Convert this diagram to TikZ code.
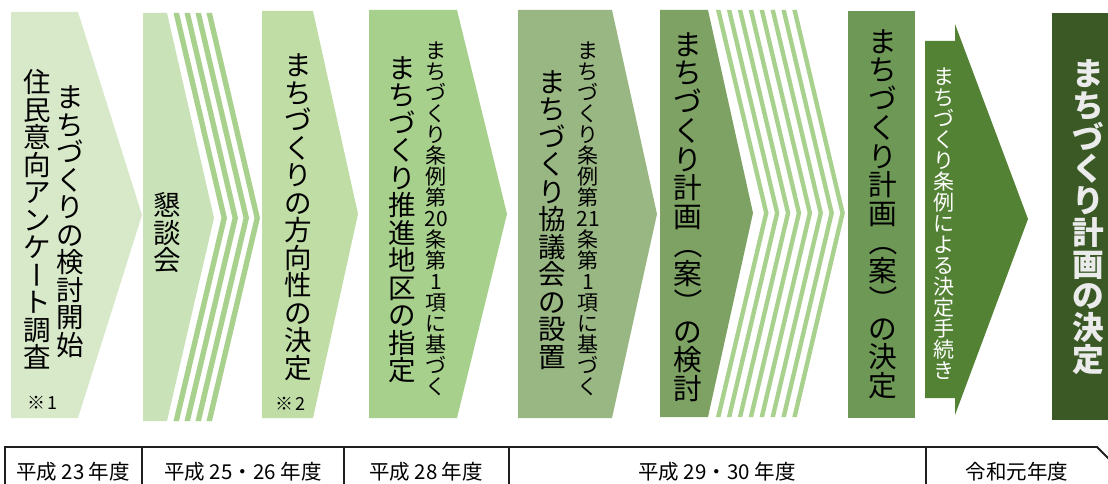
\documentclass[tikz,border=0pt]{standalone}
\usepackage{fontspec}
\setmainfont{Noto Sans CJK JP}
\usepackage{graphicx}
\definecolor{cA}{HTML}{D8E9CA}
\definecolor{cB}{HTML}{C9E2B7}
\definecolor{cC}{HTML}{C0DDA6}
\definecolor{cD}{HTML}{A8D08D}
\definecolor{cE}{HTML}{99B783}
\definecolor{cF}{HTML}{7DA263}
\definecolor{cG}{HTML}{6E9856}
\definecolor{cH}{HTML}{548235}
\definecolor{cI}{HTML}{3A5925}
\definecolor{cS}{HTML}{A9D18E}
\ExplSyntaxOn
\NewDocumentCommand \vt { m }
  {
    \vbox:n
      {
        \offinterlineskip
        \tl_map_inline:nn {#1}
          {
            \hbox_to_wd:nn {1em} { \vrule height .88em depth .12em width 0pt \hss \smash{##1} \hss }
          }
      }
  }
\ExplSyntaxOff
\newcommand\rv[1]{\rotatebox[origin=c]{-90}{\hbox to 1em{\vrule height .88em depth .12em width 0pt\hss #1\hss}}}
\begin{document}
\begin{tikzpicture}[x=1pt,y=-1pt,
  vtx/.style={inner sep=0pt,anchor=center},
  fbig/.style={font=\fontsize{27.5}{27.5}\selectfont},
  fmid/.style={font=\fontsize{28.7}{28.7}\selectfont},
  fsmall/.style={font=\fontsize{21}{21}\selectfont},
  fhuge/.style={font=\fontsize{31.7}{31.7}\selectfont\bfseries},
  fnote/.style={font=\fontsize{18}{18}\selectfont, inner sep=0pt},
  fyr/.style={font=\fontsize{20.5}{20.5}\selectfont, inner sep=0pt},
  tl/.style={line width=1.8pt, draw=black!88}]
\useasboundingbox (0,0) rectangle (1108,484);
\clip (0,0) rectangle (1108,484);
\fill[white] (0,0) rectangle (1108,484);
% shape 1
\fill[cA] (11,12) -- (78,12) -- (142,215) -- (78,418) -- (11,418) -- cycle;
% shape 2 with stripes
\fill[cB] (143,13) -- (167,13) -- (214,218) -- (167,421) -- (143,421) -- cycle;
\foreach \k in {0,...,3}{
  \fill[cS] ({173.5+11*\k},13) -- ++(5.5,0) -- ++(48,205) -- ++(-48,203) -- ++(-5.5,0) -- ++(48,-203) -- cycle;}
% shape 3
\fill[cC] (262,11) -- (313,11) -- (358,214) -- (313,418) -- (262,418) -- cycle;
% shape 4
\fill[cD] (369,10) -- (457,10) -- (507,214) -- (457,418) -- (369,418) -- cycle;
% shape 5
\fill[cE] (518,10) -- (612,10) -- (657,214) -- (612,418) -- (518,418) -- cycle;
% shape 6 with stripes
\fill[cF] (660,10) -- (708,10) -- (753,213) -- (708,417) -- (660,417) -- cycle;
\foreach \k in {0,...,7}{
  \fill[cS] ({716+10.9*\k},10) -- ++(4.5,0) -- ++(48,203) -- ++(-48,204) -- ++(-4.5,0) -- ++(48,-204) -- cycle;}
% shape 7
\fill[cG] (848,11) rectangle (915,418);
% shape 8 arrow
\fill[cH] (925,41) -- (955,41) -- (955,24) -- (1028,219) -- (955,415) -- (955,398) -- (925,398) -- cycle;
% shape 9
\fill[cI] (1052,13) rectangle (1110,420);

% texts
\node[vtx,fbig] (t1a) at (70,221) {\vt{まちづくりの検討開始}};
\node[vtx,fbig] (t1b) at (37,220) {\vt{住民意向アンケ{\rv{ー}}ト調査}};
\node[fnote] (n1) at (42,403) {※\kern2pt 1};
\node[vtx,fbig] (t2) at (167,233) {\vt{懇談会}};
\node[vtx,fbig] (t3) at (298,216.5) {\vt{まちづくりの方向性の決定}};
\node[fnote] (n2) at (290,404) {※\kern2pt 2};
\node[vtx,fbig] (t4a) at (402,219) {\vt{まちづくり推進地区の指定}};
\node[vtx,fsmall] (t4b) at (436,219) {\vt{まちづくり条例第{20}条第1項に基づく}};
\node[vtx,fbig] (t5a) at (552,219.5) {\vt{まちづくり協議会の設置}};
\node[vtx,fsmall] (t5b) at (588,219) {\vt{まちづくり条例第{21}条第1項に基づく}};
\node[vtx,fmid] (t6) at (688,216.5) {\vt{まちづくり計画{\rv{（}}案{\rv{）}}の検討}};
\node[vtx,fmid] (t7) at (883,213.5) {\vt{まちづくり計画{\rv{（}}案{\rv{）}}の決定}};
\node[vtx,fsmall,text=white] (t8) at (944,223.5) {\vt{まちづくり条例による決定手続き}};
\node[vtx,fhuge,text=white!92!black] (t9) at (1088,216.5) {\vt{まちづくり計画の決定}};

% timeline
\draw[tl] (5,490) -- (5,447) -- (1097,447) -- (1140,490);
\foreach \x in {142,344,509,926} \draw[tl] (\x,447) -- (\x,490);
\node[fyr] (y1) at (73,472) {平成 23 年度};
\node[fyr] (y2) at (243,472) {平成 25・26 年度};
\node[fyr] (y3) at (426,472) {平成 28 年度};
\node[fyr] (y4) at (717,472) {平成 29・30 年度};
\node[fyr] (y5) at (1017,472) {令和元年度};
\end{tikzpicture}
\end{document}
